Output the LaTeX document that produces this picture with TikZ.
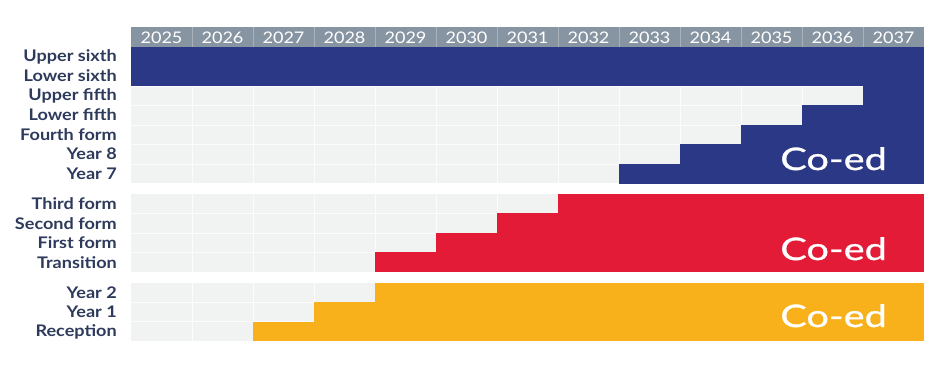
\documentclass[tikz,border=0pt]{standalone}
\usepackage{fontspec}
\setmainfont{Lato}
\newfontfamily\labelfont{Lato}[FakeStretch=1.13]
\newfontfamily\coedfont{Lato}[FakeStretch=1.28, FakeBold=1]
\definecolor{navyband}{HTML}{2B3885}
\definecolor{redband}{HTML}{E31B37}
\definecolor{goldband}{HTML}{F8B11A}
\definecolor{headgrey}{HTML}{8794A2}
\definecolor{headline}{HTML}{A7B1BB}
\definecolor{cellgrey}{HTML}{F1F2F2}
\definecolor{labelblue}{HTML}{2E3A5C}

\begin{document}
\begin{tikzpicture}[
    x=1pt, y=-1pt,
    rowlabel/.style={anchor=east, inner sep=0pt, text=labelblue, font=\labelfont\bfseries\fontsize{16}{18}\selectfont},
    yearlabel/.style={inner sep=0pt, text=white, font=\labelfont\fontsize{16}{18}\selectfont},
    coed/.style={anchor=base east, inner sep=0pt, text=white, font=\coedfont\fontsize{31}{34}\selectfont},
    gridline/.style={white, line width=0.6pt, opacity=0.8}
]
\useasboundingbox (0,0) rectangle (940,365);

% Header row
\fill[headgrey] (131,27.3) rectangle (924,46.8);
\foreach \yr [count=\k from 0] in {2025,...,2037} {
    \node[yearlabel] (yr\yr) at ({161.5+61*\k},37.3) {\yr};
}
\foreach \k in {1,...,12} {
    \draw[headline, line width=0.8pt] ({131+61*\k},27.3) -- ({131+61*\k},46.8);
}

% Grey backgrounds and grid
\foreach \top/\n in {46.8/7, 194/4, 282.7/3} {
    \fill[cellgrey] (131,\top) rectangle (924,{\top+19.5*\n});
    \foreach \k in {1,...,12} {
        \draw[gridline] ({131+61*\k},\top) -- ({131+61*\k},{\top+19.5*\n});
    }
    \foreach \i in {1,...,\n} {
        \draw[gridline] (131,{\top+19.5*\i}) -- (924,{\top+19.5*\i});
    }
}

% Senior school
\foreach \i/\s in {0/0, 1/0, 2/12, 3/11, 4/10, 5/9, 6/8} {
    \fill[navyband] ({131+61*\s},{46.8+19.5*\i-0.2}) rectangle (924,{46.8+19.5*(\i+1)+0.2});
}
% Middle school
\foreach \i/\s in {0/7, 1/6, 2/5, 3/4} {
    \fill[redband] ({131+61*\s},{194+19.5*\i-0.2}) rectangle (924,{194+19.5*(\i+1)+0.2});
}
% Pre-prep
\foreach \i/\s in {0/4, 1/3, 2/2} {
    \fill[goldband] ({131+61*\s},{282.7+19.5*\i-0.2}) rectangle (924,{282.7+19.5*(\i+1)+0.2});
}

% Row labels
\foreach \txt [count=\i from 0] in {Upper sixth, Lower sixth, Upper fifth, Lower fifth, Fourth form, Year 8, Year 7} {
    \node[rowlabel] (senior\i) at (117,{56.5+19.5*\i}) {\txt};
}
\foreach \txt [count=\i from 0] in {Third form, Second form, First form, Transition} {
    \node[rowlabel] (middle\i) at (117,{203.7+19.5*\i}) {\txt};
}
\foreach \txt [count=\i from 0] in {Year 2, Year 1, Reception} {
    \node[rowlabel] (prep\i) at (117,{292.4+19.5*\i}) {\txt};
}

% Co-ed tags
\node[coed] (coedsenior) at (887,170) {Co-ed};
\node[coed] (coedmiddle) at (887,260) {Co-ed};
\node[coed] (coedprep) at (887,327) {Co-ed};

\end{tikzpicture}
\end{document}
